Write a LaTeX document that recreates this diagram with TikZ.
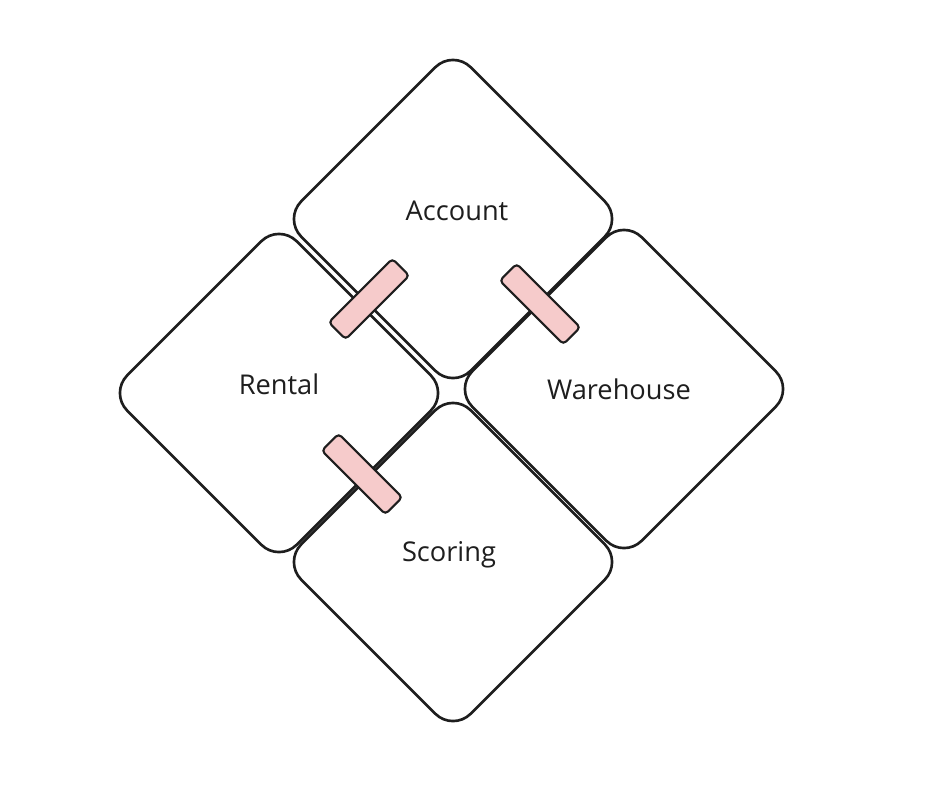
\documentclass[tikz,border=0pt]{standalone}
\usepackage{fontspec}
\setmainfont{Open Sans}
\usetikzlibrary{shapes.geometric}
\definecolor{linkpink}{RGB}{246,203,203}
\definecolor{inkblack}{RGB}{30,30,30}
\begin{document}
\begin{tikzpicture}[x=0.02cm, y=-0.02cm,
    ctx/.style={diamond, draw=inkblack, line width=1.5pt, fill=white,
        minimum width=6.8cm, minimum height=6.8cm, inner sep=0pt,
        rounded corners=0.5cm},
    ctxtext/.style={font=\fontsize{15.5}{18}\selectfont, text=inkblack},
    link/.style={rectangle, draw=inkblack, line width=1.2pt, fill=linkpink,
        minimum width=1.8cm, minimum height=0.48cm, inner sep=0pt,
        rounded corners=0.08cm}]
    \useasboundingbox (0,0) rectangle (932,809); % 画布
    % 四个上下文
    \node[ctx, label={[ctxtext, xshift=0.08cm, yshift=0.16cm]center:Account}] (account) at (453,219) {};
    \node[ctx, label={[ctxtext, yshift=0.18cm]center:Rental}] (rental) at (279,393) {};
    \node[ctx, label={[ctxtext, xshift=-0.1cm]center:Warehouse}] (warehouse) at (624,389) {};
    \node[ctx, label={[ctxtext, xshift=-0.08cm, yshift=0.14cm]center:Scoring}] (scoring) at (453,562) {};
    % 上下文之间的连接
    \node[link, rotate=45] (accren) at (369,299) {};
    \node[link, rotate=-45] (accware) at (540,304) {};
    \node[link, rotate=-45] (rensco) at (362,474) {};
\end{tikzpicture}
\end{document}
